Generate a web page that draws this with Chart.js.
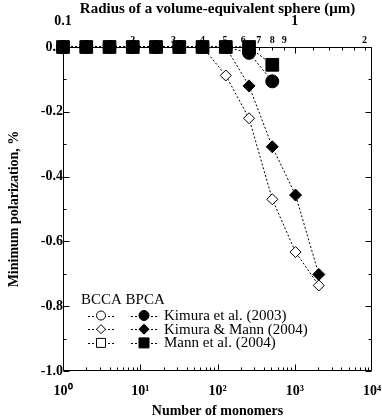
<!DOCTYPE html>
<html>
<head>
<meta charset="utf-8">
<script src="https://cdn.jsdelivr.net/npm/chart.js@4.4.1/dist/chart.umd.min.js"></script>
<style>
  html, body { margin: 0; padding: 0; background: #fff; }
  #wrap { width: 382px; height: 418px; }
</style>
</head>
<body>
<div id="wrap"><canvas id="chart" width="382" height="418"></canvas></div>
<script>
// Number of monomers (x values, shared by all series)
const monomers = [1, 2, 4, 8, 16, 32, 64, 128, 256, 512, 1024, 2048];

// Minimum polarization (%) per model, in the same order as monomers
const kimura2003BCCA = [0, 0, 0, 0, 0, 0, 0, 0];
const kimura2003BPCA = [0, 0, 0, 0, 0, 0, 0, 0, -0.018, -0.106];
const kimuraMann2004BCCA = [0, 0, 0, 0, 0, 0, 0, -0.088, -0.220, -0.470, -0.633, -0.736];
const kimuraMann2004BPCA = [0, 0, 0, 0, 0, 0, 0, 0, -0.120, -0.308, -0.457, -0.702];
const mann2004BCCA = [0, 0, 0, 0, 0, 0, 0, 0, 0];
const mann2004BPCA = [0, 0, 0, 0, 0, 0, 0, 0, 0, -0.055];

// Axis ticks
const monomerTicks = [1, 10, 100, 1000, 10000];
const monomerTickLabels = ['10⁰', '10¹', '10²', '10³', '10⁴'];
const polarizationTicks = [0, -0.2, -0.4, -0.6, -0.8, -1.0];
const radiusMajorTicks = [0.1, 1];
const radiusMinorTicks = [0.2, 0.3, 0.4, 0.5, 0.6, 0.7, 0.8, 0.9, 2];
const radiusSmallTicks = [1.2, 1.4, 1.6, 1.8];

// Legend
const legendHeader = 'BCCA BPCA';
const legendLabels = ['Kimura et al. (2003)', 'Kimura & Mann (2004)', 'Mann et al. (2004)'];
const legendShapes = ['circle', 'diamond', 'square'];

// radius (µm) = 0.1 * N^(1/3)
const RADIUS_MIN = 0.1;
const RADIUS_MAX = 0.1 * Math.cbrt(10000);

const FONT = "'Liberation Serif', 'Times New Roman', serif";
Chart.defaults.font.family = FONT;
Chart.defaults.color = '#000';

function toPoints(values) {
  return values.map(function(v, i) { return { x: monomers[i], y: v }; });
}

function series(label, values, style, filled) {
  const sizes = { rect: 9, circle: 6.5, rectRot: 6 };
  const openSizes = { rect: 6, circle: 5, rectRot: 5.5 };
  return {
    label: label,
    data: toPoints(values),
    xAxisID: 'x',
    yAxisID: 'y',
    borderColor: '#000',
    borderWidth: 1,
    borderDash: [2, 2],
    pointStyle: style,
    pointRadius: filled ? sizes[style] : openSizes[style],
    pointBackgroundColor: filled ? '#000' : '#fff',
    pointBorderColor: '#000',
    pointBorderWidth: 1,
    fill: false,
    tension: 0,
    clip: false
  };
}

// Inward tick marks + frame
const frameTicks = {
  id: 'frameTicks',
  beforeDatasetsDraw(chart) {
    const ctx = chart.ctx;
    const a = chart.chartArea;
    const sx = chart.scales.x, sy = chart.scales.y, st = chart.scales.x2;
    const L = Math.round(a.left) + 0.5, R = Math.round(a.right) - 0.5;
    const T = Math.round(a.top) + 0.5, B = Math.round(a.bottom) - 0.5;
    ctx.save();
    ctx.strokeStyle = '#000';
    ctx.lineWidth = 1;
    ctx.beginPath();
    ctx.rect(L, T, R - L, B - T);
    // bottom: decades + minor
    for (let d = 0; d < 4; d++) {
      for (let k = 1; k <= 9; k++) {
        const px = Math.round(sx.getPixelForValue(k * Math.pow(10, d))) + 0.5;
        const len = k === 1 ? 6 : 3;
        ctx.moveTo(px, B); ctx.lineTo(px, B - len);
      }
    }
    // left / right
    for (let i = 0; i <= 10; i++) {
      const py = Math.round(sy.getPixelForValue(-i / 10)) + 0.5;
      const len = i % 2 === 0 ? 6 : 3;
      ctx.moveTo(L, py); ctx.lineTo(L + len, py);
      ctx.moveTo(R, py); ctx.lineTo(R - len, py);
    }
    // top (radius)
    radiusMajorTicks.forEach(function(r) {
      const px = Math.round(st.getPixelForValue(r)) + 0.5;
      ctx.moveTo(px, T); ctx.lineTo(px, T + 6);
    });
    radiusMinorTicks.concat(radiusSmallTicks).forEach(function(r) {
      const px = Math.round(st.getPixelForValue(r)) + 0.5;
      ctx.moveTo(px, T); ctx.lineTo(px, T + 3);
    });
    ctx.stroke();
    ctx.restore();
  }
};

function drawMarker(ctx, shape, x, y, filled) {
  ctx.beginPath();
  if (shape === 'circle') {
    ctx.arc(x, y, filled ? 5 : 4.5, 0, Math.PI * 2);
  } else if (shape === 'diamond') {
    const s = filled ? 5 : 4.5;
    ctx.moveTo(x, y - s); ctx.lineTo(x + s, y); ctx.lineTo(x, y + s); ctx.lineTo(x - s, y); ctx.closePath();
  } else {
    const s = filled ? 5 : 4.5;
    ctx.rect(x - s, y - s, 2 * s, 2 * s);
  }
  ctx.fillStyle = filled ? '#000' : '#fff';
  ctx.fill();
  ctx.lineWidth = 1;
  ctx.strokeStyle = '#000';
  ctx.stroke();
}

const customLegend = {
  id: 'customLegend',
  afterDraw(chart) {
    const ctx = chart.ctx;
    ctx.save();
    ctx.fillStyle = '#000';
    ctx.font = '15px ' + FONT;
    ctx.textBaseline = 'middle';
    ctx.fillText(legendHeader, 81, 300);
    legendLabels.forEach(function(lab, i) {
      const y = 315.5 + i * 13.7;
      ctx.save();
      ctx.setLineDash([2, 2]);
      ctx.lineWidth = 1;
      ctx.strokeStyle = '#000';
      ctx.beginPath();
      ctx.moveTo(88, Math.round(y) + 0.5); ctx.lineTo(114, Math.round(y) + 0.5);
      ctx.moveTo(131, Math.round(y) + 0.5); ctx.lineTo(158, Math.round(y) + 0.5);
      ctx.stroke();
      ctx.restore();
      drawMarker(ctx, legendShapes[i], 101, y, false);
      drawMarker(ctx, legendShapes[i], 144, y, true);
      ctx.fillStyle = '#000';
      ctx.fillText(lab, 164, y + 0.5);
    });
    ctx.restore();
  }
};

const boldTick = { size: 14, weight: 'bold' };

new Chart(document.getElementById('chart'), {
  type: 'line',
  data: {
    datasets: [
      series('Mann et al. (2004) BPCA', mann2004BPCA, 'rect', true),
      series('Kimura et al. (2003) BPCA', kimura2003BPCA, 'circle', true),
      series('Kimura & Mann (2004) BPCA', kimuraMann2004BPCA, 'rectRot', true),
      series('Mann et al. (2004) BCCA', mann2004BCCA, 'rect', false),
      series('Kimura et al. (2003) BCCA', kimura2003BCCA, 'circle', false),
      series('Kimura & Mann (2004) BCCA', kimuraMann2004BCCA, 'rectRot', false)
    ]
  },
  options: {
    responsive: false,
    animation: false,
    layout: { padding: { left: 0, right: 10, top: 0, bottom: 0 } },
    plugins: {
      legend: { display: false },
      tooltip: { enabled: false }
    },
    scales: {
      x: {
        type: 'logarithmic',
        position: 'bottom',
        min: 1,
        max: 10000,
        grid: { display: false, drawTicks: false },
        border: { display: false },
        afterBuildTicks: function(s) { s.ticks = monomerTicks.map(function(v) { return { value: v }; }); },
        ticks: {
          autoSkip: false, maxRotation: 0, padding: 12, font: boldTick,
          callback: function(v, i) { return monomerTickLabels[i]; }
        },
        title: {
          display: true, text: 'Number of monomers',
          font: { size: 14, weight: 'bold' }, padding: { top: 0, bottom: -2 }
        },
        afterFit: function(s) { s.height = 47; s.paddingLeft = 0; s.paddingRight = 0; }
      },
      x2: {
        type: 'logarithmic',
        position: 'top',
        weight: 1,
        min: RADIUS_MIN,
        max: RADIUS_MAX,
        grid: { display: false, drawTicks: false },
        border: { display: false },
        afterBuildTicks: function(s) { s.ticks = radiusMinorTicks.map(function(v) { return { value: v }; }); },
        ticks: {
          autoSkip: false, maxRotation: 0, padding: 1, font: { size: 10, weight: 'bold' },
          callback: function(v) { return v < 1 ? String(Math.round(v * 10)) : String(v); }
        },
        afterFit: function(s) { s.height = 14; s.paddingLeft = 0; s.paddingRight = 0; }
      },
      x3: {
        type: 'logarithmic',
        position: 'top',
        weight: 2,
        min: RADIUS_MIN,
        max: RADIUS_MAX,
        grid: { display: false, drawTicks: false },
        border: { display: false },
        afterBuildTicks: function(s) { s.ticks = radiusMajorTicks.map(function(v) { return { value: v }; }); },
        ticks: {
          autoSkip: false, maxRotation: 0, padding: 3, font: boldTick,
          callback: function(v) { return String(v); }
        },
        title: {
          display: true, text: 'Radius of a volume-equivalent sphere (μm)',
          font: { size: 15, weight: 'bold' }, padding: { top: 0, bottom: 0 }
        },
        afterFit: function(s) { s.height = 33; s.paddingLeft = 0; s.paddingRight = 0; }
      },
      y: {
        type: 'linear',
        min: -1,
        max: 0,
        grid: { display: false, drawTicks: false },
        border: { display: false },
        afterBuildTicks: function(s) { s.ticks = polarizationTicks.map(function(v) { return { value: v }; }); },
        ticks: {
          autoSkip: false, padding: 0, font: boldTick,
          callback: function(v) { return v.toFixed(1); }
        },
        title: {
          display: true, text: 'Minimum polarization, %',
          font: { size: 14, weight: 'bold' }, padding: { top: 6, bottom: 0 }
        },
        afterFit: function(s) { s.width = 63; s.paddingTop = 0; s.paddingBottom = 0; }
      }
    }
  },
  plugins: [frameTicks, customLegend]
});
</script>
</body>
</html>
